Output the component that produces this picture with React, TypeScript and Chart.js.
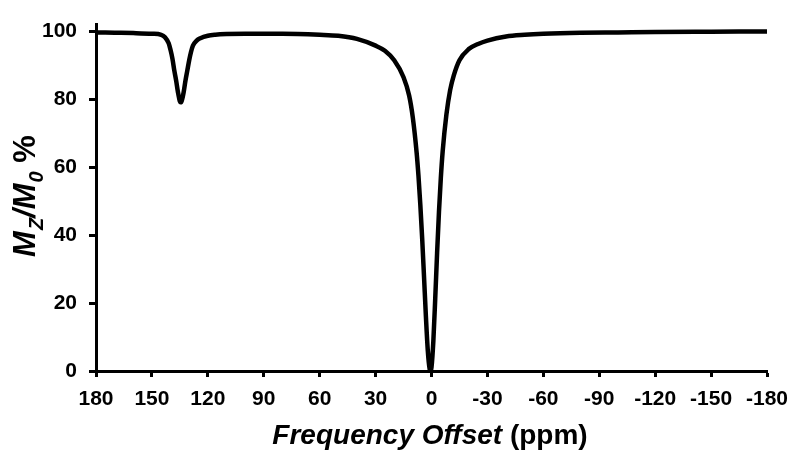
import React, { useEffect, useRef } from "react";
import { Chart, registerables } from "chart.js";

Chart.register(...registerables);

// Frequency offset (ppm) and Mz/M0 (%)
const offsetsPpm: number[] = [
  -180, -150, -120, -100, -80, -60, -50, -40, -30, -25, -20, -15, -12, -10, -8, -6, -5, -4, -3, -2, -1, 0, 0.5,
  1, 2, 3, 4, 5, 6, 7, 8, 10, 12, 15, 20, 25, 30, 40, 50, 60, 80, 100, 110, 116, 120, 124, 126, 128, 129, 130,
  131, 132, 133, 134, 134.6, 135, 136, 137, 138, 139, 140, 141, 143, 145, 150, 160, 170, 180,
];
const mzValues: number[] = [
  100, 99.9, 99.8, 99.7, 99.6, 99.3, 99.0, 98.5, 97.3, 96.3, 94.8, 91.5, 87.1, 82.7, 75.5, 64.7, 56.8, 46.8, 34.7, 21.3, 8.9, 1.1, 0,
  0.6, 6.1, 16, 27.6, 39, 49, 57.5, 64.4, 74.5, 81.1, 86.5, 91.5, 94.3, 95.8, 97.8, 98.7, 99.0, 99.3, 99.3, 99.2, 99.0, 98.7, 98.0, 97.3, 95.8, 94.0, 91.5,
  88.5, 85.5, 82, 79.6, 79.1, 79.4, 82, 85.5, 88.5, 92, 94.5, 96.5, 98.3, 99.0, 99.3, 99.5, 99.6, 99.7,
];

const xTitleItalic = "Frequency Offset";
const xTitleUnit = " (ppm)";

const FONT = '"Liberation Sans", Arial, Helvetica, sans-serif';

const titlesPlugin = {
  id: "axisTitles",
  afterDraw(chart: any) {
    const ctx = chart.ctx as CanvasRenderingContext2D;
    ctx.save();
    ctx.fillStyle = "#000";
    ctx.textBaseline = "alphabetic";
    ctx.textAlign = "left";
    // X title
    const f1 = `italic bold 28px ${FONT}`;
    const f2 = `bold 28px ${FONT}`;
    ctx.font = f1;
    const w1 = ctx.measureText(xTitleItalic).width;
    ctx.font = f2;
    const w2 = ctx.measureText(xTitleUnit).width;
    const cx = 430;
    const x = cx - (w1 + w2) / 2;
    const by = 444;
    ctx.font = f1;
    ctx.fillText(xTitleItalic, x, by);
    ctx.font = f2;
    ctx.fillText(xTitleUnit, x + w1, by);

    // Y title with subscripts
    const big = `italic bold 31px ${FONT}`;
    const small = `italic bold 20px ${FONT}`;
    const pct = `bold 31px ${FONT}`;
    const parts: [string, string, number][] = [
      ["M", big, 0],
      ["Z", small, 8],
      ["/M", big, 0],
      ["0", small, 8],
      [" %", pct, 0],
    ];
    let total = 0;
    const widths = parts.map(([t, f]) => {
      ctx.font = f;
      const w = ctx.measureText(t).width;
      total += w;
      return w;
    });
    const cy = 197;
    ctx.translate(35, cy);
    ctx.rotate(-Math.PI / 2);
    let px = -total / 2;
    parts.forEach(([t, f, dy], i) => {
      ctx.font = f;
      ctx.fillText(t, px, dy);
      px += widths[i] + (i === 0 || i === 2 ? 1 : 0);
    });
    ctx.restore();
  },
};

export default function App() {
  const ref = useRef<HTMLCanvasElement | null>(null);
  useEffect(() => {
    if (!ref.current) return;
    const data = offsetsPpm.map((p, i) => ({ x: p, y: mzValues[i] }));
    const tickFont = { family: FONT, size: 21, weight: "bold" as const };
    const chart = new Chart(ref.current, {
      type: "line",
      data: {
        datasets: [
          {
            data,
            borderColor: "#000",
            borderWidth: 4.5,
            pointRadius: 0,
            cubicInterpolationMode: "monotone",
            fill: false,
          },
        ],
      },
      options: {
        animation: false,
        responsive: false,
        devicePixelRatio: 1,
        layout: { padding: { left: 0, top: 21, right: 33, bottom: 0 } },
        plugins: { legend: { display: false }, tooltip: { enabled: false }, title: { display: false } },
        scales: {
          x: {
            type: "linear",
            min: -180,
            max: 180,
            reverse: true,
            afterFit: (s: any) => {
              s.height = 91;
            },
            ticks: { stepSize: 30, color: "#000", font: tickFont, padding: 10, maxRotation: 0, autoSkip: false },
            grid: { drawOnChartArea: false, drawTicks: true, tickLength: 6, tickWidth: 3, tickColor: "#000" },
            border: { display: true, color: "#000", width: 3 },
          },
          y: {
            type: "linear",
            min: 0,
            max: 102,
            afterFit: (s: any) => {
              s.width = 96;
            },
            ticks: { stepSize: 20, color: "#000", font: tickFont, padding: 12, includeBounds: false },
            grid: { drawOnChartArea: false, drawTicks: true, tickLength: 7, tickWidth: 3, tickColor: "#000" },
            border: { display: true, color: "#000", width: 3 },
          },
        },
      },
      plugins: [titlesPlugin],
    });
    return () => chart.destroy();
  }, []);
  return (
    <div style={{ position: "absolute", left: 0, top: 0, width: 800, height: 462, background: "#fff" }}>
      <canvas ref={ref} width={800} height={462} />
    </div>
  );
}
